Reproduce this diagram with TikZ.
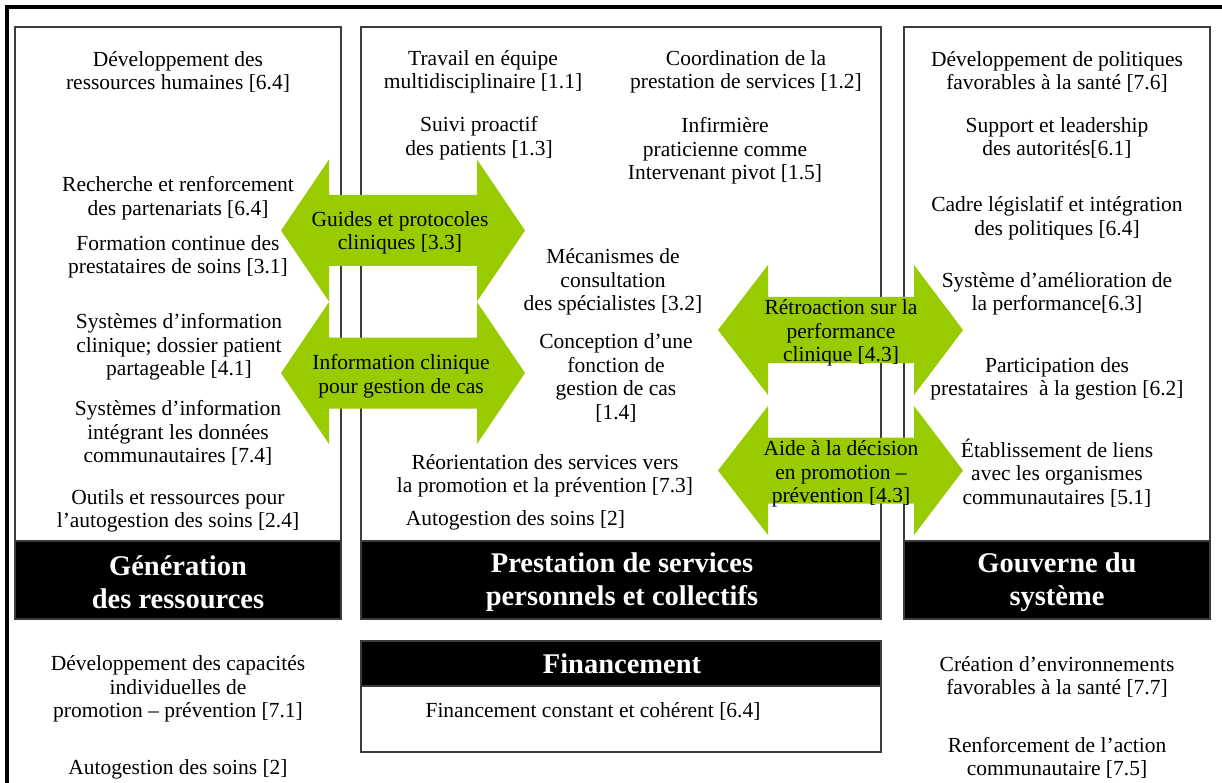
\documentclass[tikz,border=0pt]{standalone}
\usepackage{fontspec}
\setmainfont{Liberation Serif}
\definecolor{agreen}{RGB}{153,204,0}
\definecolor{edgegray}{RGB}{60,60,60}
\newcommand\gDblArrow[7]{% x1 x2 x3 x4 cy shafthalf headhalf
  \fill[arrowfill] (#1,#5) -- (#2,#5-#7) -- (#2,#5-#6) -- (#3,#5-#6) -- (#3,#5-#7) -- (#4,#5)
    -- (#3,#5+#7) -- (#3,#5+#6) -- (#2,#5+#6) -- (#2,#5+#7) -- cycle;}
\begin{document}
\begin{tikzpicture}[x=1pt,y=-1pt,
  txt/.style={font=\fontsize{21.5}{23.5}\selectfont, align=center, inner sep=0pt, text=black},
  hdr/.style={font=\fontsize{28.5}{33}\selectfont\bfseries, align=center, inner sep=0pt, text=white},
  colbox/.style={draw=edgegray, line width=1.3pt, fill=white},
  bar/.style={fill=black, draw=edgegray, line width=1.3pt},
  arrowfill/.style={fill=agreen}]
\useasboundingbox (0,0) rectangle (1222,783);
\fill[white] (0,0) rectangle (1222,783);
\draw[line width=3.5pt, line join=miter] (7,783) -- (7,7) -- (1222,7);

% column boxes
\draw[colbox] (15,27) rectangle (341,619);
\draw[bar] (15,541) rectangle (341,619);
\draw[colbox] (361,27) rectangle (881,619);
\draw[bar] (361,541) rectangle (881,619);
\draw[colbox] (904,27) rectangle (1210,619);
\draw[bar] (904,541) rectangle (1210,619);
% financement box
\draw[colbox] (361,641) rectangle (881,752);
\draw[bar] (361,641) rectangle (881,686);

% arrows
\gDblArrow{281}{329}{477}{525}{230.5}{35.5}{71}
\gDblArrow{281}{329}{477}{525}{373}{35.5}{71}
\gDblArrow{718}{768}{914}{963}{330}{33}{65}
\gDblArrow{718}{768}{914}{963}{470.5}{33}{64.5}

% headers
\node[hdr] (hgen) at (178,582) {Génération\\des ressources};
\node[hdr] (hprest) at (622,582) {Prestation de services\\personnels et collectifs};
\node[hdr] (hgouv) at (1057,582) {Gouverne du\\système};
\node[hdr] (hfin) at (622,664) {Financement};

% left column
\node[txt] (l1) at (178,72) {Développement des\\ressources humaines [6.4]};
\node[txt] (l2) at (178,198) {Recherche et renforcement\\des partenariats [6.4]};
\node[txt] (l3) at (178,257) {Formation continue des\\prestataires de soins [3.1]};
\node[txt] (l4) at (179,347) {Systèmes d’information\\clinique; dossier patient\\partageable [4.1]};
\node[txt] (l5) at (178,433) {Systèmes d’information\\intégrant les données\\communautaires [7.4]};
\node[txt] (l6) at (178,511) {Outils et ressources pour\\l’autogestion des soins [2.4]};

% middle column
\node[txt] (m1) at (483,72) {Travail en équipe\\multidisciplinaire [1.1]};
\node[txt] (m2) at (746,72) {Coordination de la\\prestation de services [1.2]};
\node[txt] (m3) at (479,138) {Suivi proactif\\des patients [1.3]};
\node[txt] (m4) at (725,151) {Infirmière\\praticienne comme\\Intervenant pivot [1.5]};
\node[txt] (m5) at (613,282) {Mécanismes de\\consultation\\des spécialistes [3.2]};
\node[txt] (m6) at (616,378) {Conception d’une\\fonction de\\gestion de cas\\{}[1.4]};
\node[txt] (m7) at (545,476) {Réorientation des services vers\\la promotion et la prévention [7.3]};
\node[txt] (m8) at (515.5,520) {Autogestion des soins [2]};

% right column
\node[txt] (r1) at (1057,72) {Développement de politiques\\favorables à la santé [7.6]};
\node[txt] (r2) at (1057,138) {Support et leadership\\des autorités[6.1]};
\node[txt] (r3) at (1057,218) {Cadre législatif et intégration\\des politiques [6.4]};
\node[txt] (r4) at (1057,294) {Système d’amélioration de\\la performance[6.3]};
\node[txt] (r5) at (1057,379) {Participation des\\prestataires\ \ à la gestion [6.2]};
\node[txt] (r6) at (1057,473) {Établissement de liens\\avec les organismes\\communautaires [5.1]};

% arrow labels
\node[txt] (a1) at (400,233) {Guides et protocoles\\cliniques [3.3]};
\node[txt] (a2) at (401,376) {Information clinique\\pour gestion de cas};
\node[txt] (a3) at (841,333) {Rétroaction sur la\\performance\\clinique [4.3]};
\node[txt] (a4) at (841,474) {Aide à la décision\\en promotion –\\prévention [4.3]};

% bottom
\node[txt] (b1) at (178,689) {Développement des capacités\\individuelles de\\promotion – prévention [7.1]};
\node[txt] (b2) at (178,769) {Autogestion des soins [2]};
\node[txt] (b3) at (1057,677) {Création d’environnements\\favorables à la santé [7.7]};
\node[txt] (b4) at (1057,758) {Renforcement de l’action\\communautaire [7.5]};
\node[txt] (f1) at (593,711) {Financement constant et cohérent [6.4]};
\end{tikzpicture}
\end{document}
